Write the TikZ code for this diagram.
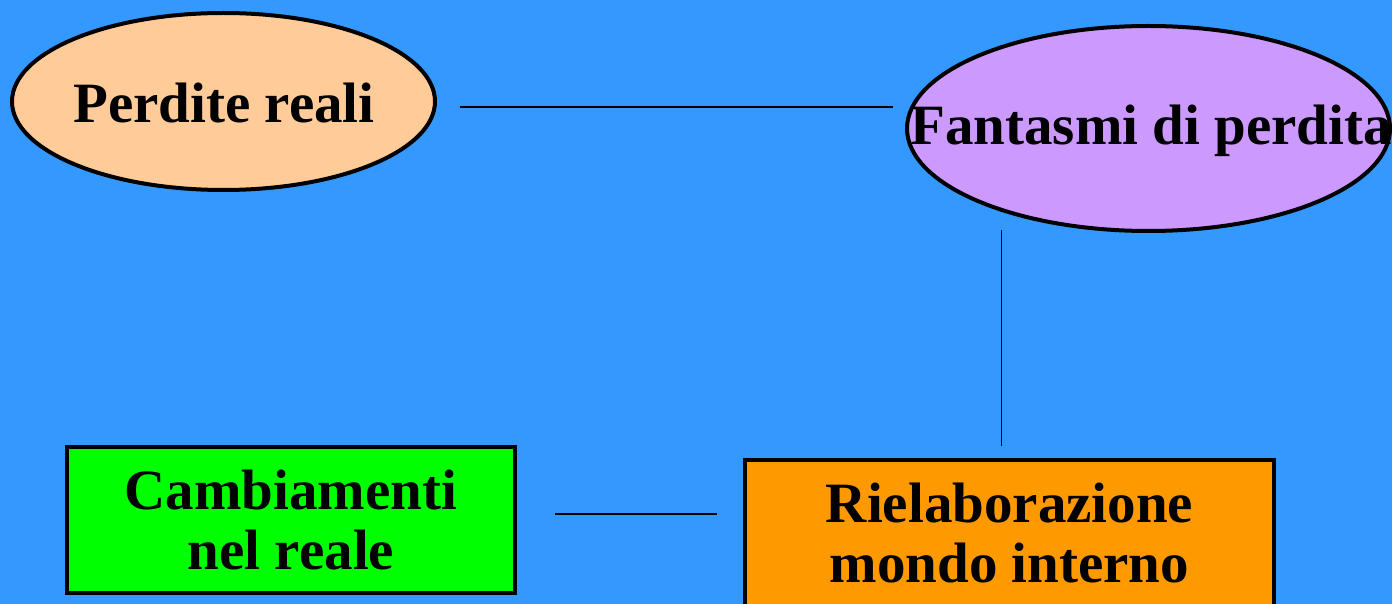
\documentclass[tikz,border=0pt]{standalone}
\usepackage{fontspec}
\setmainfont{Liberation Serif}
\usetikzlibrary{shapes.geometric}
\definecolor{bgblue}{HTML}{3399FF}
\definecolor{peach}{HTML}{FFCC99}
\definecolor{lilac}{HTML}{CC99FF}
\definecolor{brightgreen}{HTML}{00FF00}
\definecolor{orangebox}{HTML}{FF9900}
\tikzset{
  bubble/.style={ellipse, draw=black, line width=4pt, inner sep=0pt},
  boxnode/.style={rectangle, draw=black, line width=4pt, inner sep=0pt, align=center,
    font=\fontsize{57}{60}\selectfont\bfseries},
  labeltext/.style={inner sep=0pt, font=\fontsize{57}{60}\selectfont\bfseries},
  link/.style={draw=black, line width=1.5pt}
}
\begin{document}
\begin{tikzpicture}[x=1pt,y=-1pt]
\fill[bgblue] (0,0) rectangle (1392,604);
\useasboundingbox (0,0) rectangle (1392,604);
\clip (0,0) rectangle (1392,604);
\node[bubble, fill=peach, minimum width=423pt, minimum height=177pt] (perd) at (223.5,101.5) {};
\node[labeltext] (perdT) at (224,103) {Perdite reali};
\node[bubble, fill=lilac, minimum width=483pt, minimum height=205pt] (fant) at (1148.5,128.5) {};
\node[labeltext] (fantT) at (1151,131) {Fantasmi di perdita};
\node[boxnode, fill=brightgreen, minimum width=448pt, minimum height=146pt] (camb) at (291,520) {Cambiamenti\\nel reale};
\node[boxnode, fill=orangebox, minimum width=529pt, minimum height=146pt] (riel) at (1009.5,533) {Rielaborazione\\mondo interno};
\coordinate (h1a) at (460,107);
\coordinate (h1b) at (893,107);
\coordinate (v1a) at (1001.5,230);
\coordinate (v1b) at (1001.5,446);
\coordinate (h2a) at (555,514);
\coordinate (h2b) at (717,514);
\draw[link] (h1a) -- (h1b);
\draw[link] (v1a) -- (v1b);
\draw[link] (h2a) -- (h2b);
\end{tikzpicture}
\end{document}
